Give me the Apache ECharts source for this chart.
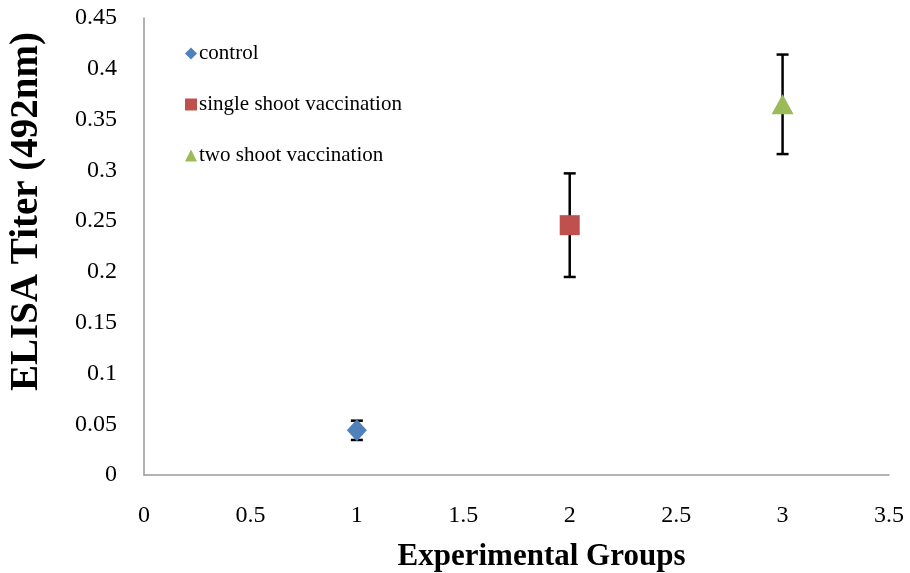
<!DOCTYPE html>
<html><head><meta charset="utf-8">
<script src="https://cdn.jsdelivr.net/npm/echarts@6/dist/echarts.min.js"></script>
<style>html,body{margin:0;padding:0;background:#fff}#c{width:910px;height:573px}</style>
</head><body><div id="c"></div>
<script>
const seriesNames = ['control', 'single shoot vaccination', 'two shoot vaccination'];
const xValues = [1, 2, 3];
const meanValues = [0.044, 0.246, 0.365];
const errValues = [0.0095, 0.051, 0.049];
const colors = ['#4F81BD', '#C0504D', '#9BBB59'];
const symbols = ['diamond', 'rect', 'triangle'];
const symbolSizes = [[20, 22], [20, 20], [22, 20]];

const chart = echarts.init(document.getElementById('c'));
const font = '"Liberation Serif", "Times New Roman", serif';

const errData = xValues.map((x, i) => [x, meanValues[i] - errValues[i], meanValues[i] + errValues[i]]);

const series = [{
  type: 'custom',
  name: 'err',
  z: 1,
  silent: true,
  renderItem: function (params, api) {
    const x = api.value(0);
    const lo = api.coord([x, api.value(1)]);
    const hi = api.coord([x, api.value(2)]);
    const hw = 6;
    const style = { stroke: '#000', lineWidth: 2.5 };
    return {
      type: 'group',
      children: [
        { type: 'line', shape: { x1: lo[0], y1: lo[1], x2: hi[0], y2: hi[1] }, style },
        { type: 'line', shape: { x1: lo[0] - hw, y1: lo[1], x2: lo[0] + hw, y2: lo[1] }, style },
        { type: 'line', shape: { x1: hi[0] - hw, y1: hi[1], x2: hi[0] + hw, y2: hi[1] }, style }
      ]
    };
  },
  data: errData
}];
seriesNames.forEach((n, i) => {
  series.push({
    type: 'scatter',
    name: n,
    z: 3,
    symbol: symbols[i],
    symbolSize: symbolSizes[i],
    itemStyle: { color: colors[i], opacity: 1 },
    data: [[xValues[i], meanValues[i]]]
  });
});

chart.setOption({
  animation: false,
  grid: { left: 144, right: 21, top: 18, bottom: 98, containLabel: false, outerBoundsMode: 'none' },
  legend: {
    data: seriesNames.map((n, i) => ({ name: n, icon: symbols[i], itemStyle: { opacity: 1 } })),
    orient: 'vertical',
    left: 180,
    top: 38,
    itemWidth: 12,
    itemHeight: 12,
    itemGap: 30,
    textStyle: { fontFamily: font, fontSize: 21, color: '#000', padding: [0, 0, 0, -3] }
  },
  xAxis: {
    type: 'value', min: 0, max: 3.5, interval: 0.5,
    name: 'Experimental Groups', nameLocation: 'middle', nameGap: 66,
    nameTextStyle: { fontFamily: font, fontSize: 31, fontWeight: 'bold', color: '#000', padding: [0, 0, 0, 50] },
    axisLine: { show: true, lineStyle: { color: '#999', width: 1.5 } },
    axisTick: { show: false },
    splitLine: { show: false },
    axisLabel: { fontFamily: font, fontSize: 24, color: '#000', margin: 29 }
  },
  yAxis: {
    type: 'value', min: 0, max: 0.45, interval: 0.05,
    name: 'ELISA Titer (492nm)', nameLocation: 'middle', nameGap: 98,
    nameTextStyle: { fontFamily: font, fontSize: 39, fontWeight: 'bold', color: '#000', padding: [0, 0, 0, 70] },
    axisLine: { show: true, lineStyle: { color: '#999', width: 1.5 } },
    axisTick: { show: false },
    splitLine: { show: false },
    axisLabel: { fontFamily: font, fontSize: 24, color: '#000', margin: 27 }
  },
  series
});
</script></body></html>
